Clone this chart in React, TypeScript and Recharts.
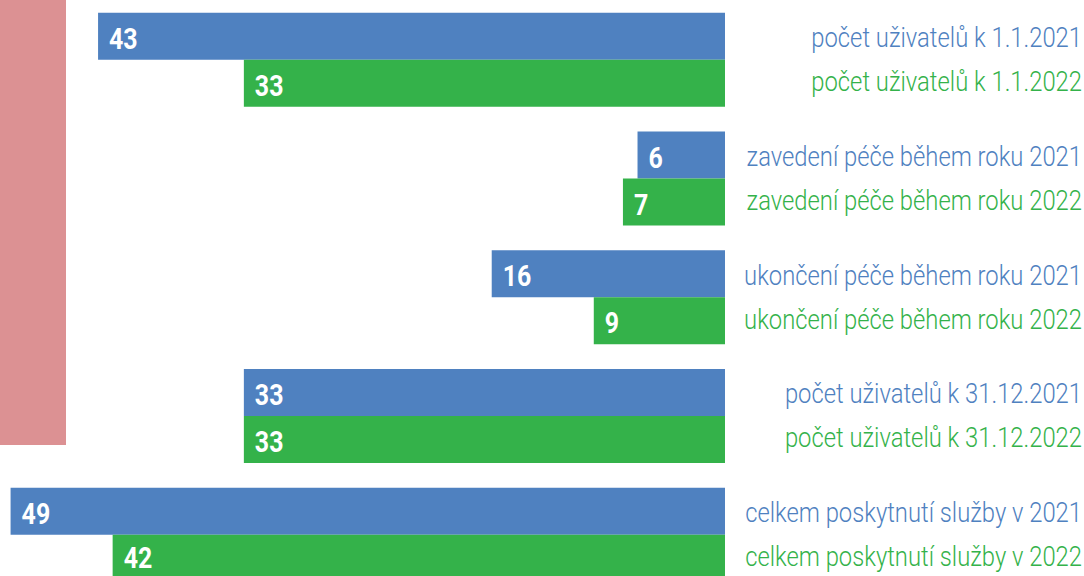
import React from 'react';
import { BarChart, Bar, XAxis, YAxis, LabelList } from 'recharts';

const groups = ['1.1.', 'zavedení', 'ukončení', '31.12.', 'celkem'];
const labels2021 = [
  'počet uživatelů k 1.1.2021',
  'zavedení péče během roku 2021',
  'ukončení péče během roku 2021',
  'počet uživatelů k 31.12.2021',
  'celkem poskytnutí služby v 2021',
];
const labels2022 = [
  'počet uživatelů k 1.1.2022',
  'zavedení péče během roku 2022',
  'ukončení péče během roku 2022',
  'počet uživatelů k 31.12.2022',
  'celkem poskytnutí služby v 2022',
];
const values2021 = [43, 6, 16, 33, 49];
const values2022 = [33, 7, 9, 33, 42];

const data = groups.map((g, i) => ({
  group: g,
  v2021: values2021[i],
  v2022: values2022[i],
}));

const BLUE = '#4f81c0';
const GREEN = '#34b24a';
const PINK = '#dc9193';
const FONT = 'Roboto, "DejaVu Sans Condensed", sans-serif';
const CHART_W = 1084;
const CHART_H = 576;
const AXIS_W = 359;
const LABEL_SX = 0.85;
const VALUE_SX = 0.86;

const RightTick = (props: any) => {
  const { x, y, payload } = props;
  const i = payload.index ?? groups.indexOf(payload.value);
  const tx = x + AXIS_W - 2;
  return (
    <g>
      <g transform={`translate(${tx},${y - 12}) scale(${LABEL_SX},1)`}>
        <text x={0} y={0} textAnchor="end" fill={BLUE} fontFamily={FONT} fontWeight={300} fontSize={28}>
          {labels2021[i]}
        </text>
      </g>
      <g transform={`translate(${tx},${y + 32}) scale(${LABEL_SX},1)`}>
        <text x={0} y={0} textAnchor="end" fill={GREEN} fontFamily={FONT} fontWeight={300} fontSize={28}>
          {labels2022[i]}
        </text>
      </g>
    </g>
  );
};

const ValueLabel = (props: any) => {
  const { x, y, width, height, value } = props;
  const left = Math.min(x, x + width);
  const top = Math.min(y, y + height);
  const bottom = Math.min(Math.max(y, y + height), CHART_H);
  const cy = (top + bottom) / 2;
  return (
    <g transform={`translate(${left + 11},${cy + 12.5}) scale(${VALUE_SX},1)`}>
      <text x={0} y={0} fill="#ffffff" fontFamily={FONT} fontWeight="bold" fontSize={29} textAnchor="start">
        {value}
      </text>
    </g>
  );
};

export default function App() {
  return (
    <div style={{ position: 'absolute', left: 0, top: 0, width: CHART_W, height: CHART_H, overflow: 'hidden', background: '#fff' }}>
      <div style={{ position: 'absolute', left: 0, top: 0, width: 66, height: 445, background: PINK }} />
      <BarChart
        width={CHART_W}
        height={CHART_H}
        data={data}
        layout="vertical"
        margin={{ top: 0, right: 0, bottom: 0, left: -4 }}
        barCategoryGap={12.85}
        barGap={0}
      >
        <XAxis type="number" domain={[0, 50]} reversed hide />
        <YAxis
          type="category"
          dataKey="group"
          orientation="right"
          width={AXIS_W}
          axisLine={false}
          tickLine={false}
          tickSize={0}
          tickMargin={0}
          interval={0}
          padding={{ top: 0, bottom: -17.5 }}
          tick={<RightTick />}
        />
        <Bar dataKey="v2021" fill={BLUE} isAnimationActive={false}>
          <LabelList dataKey="v2021" content={<ValueLabel />} />
        </Bar>
        <Bar dataKey="v2022" fill={GREEN} isAnimationActive={false}>
          <LabelList dataKey="v2022" content={<ValueLabel />} />
        </Bar>
      </BarChart>
    </div>
  );
}
